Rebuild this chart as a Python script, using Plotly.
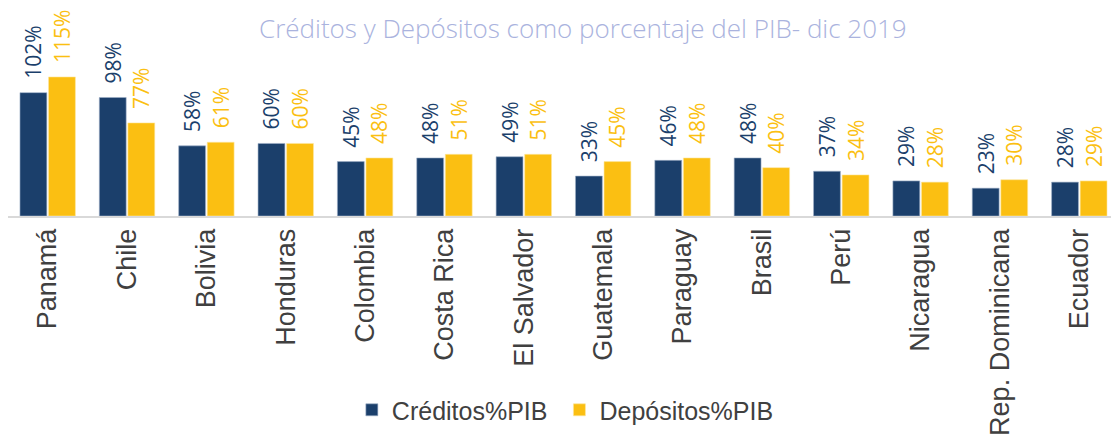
import plotly.graph_objects as go

_NAVY = "#1b3f6b"
_GOLD = "#fbbf12"
_LABEL = "#404040"

paises = ["Panamá", "Chile", "Bolivia", "Honduras", "Colombia", "Costa Rica",
          "El Salvador", "Guatemala", "Paraguay", "Brasil", "Perú", "Nicaragua",
          "Rep. Dominicana", "Ecuador"]
creditos = [102, 98, 58, 60, 45, 48, 49, 33, 46, 48, 37, 29, 23, 28]
depositos = [115, 77, 61, 60, 48, 51, 51, 45, 48, 40, 34, 28, 30, 29]

# non-breaking spaces push the rotated labels a bit off the bar tops
_PAD = "\u00a0\u00a0"

fig = go.Figure()

fig.add_trace(
    go.Bar(
        x=paises,
        y=creditos,
        name="Créditos%PIB\u00a0",
        marker=dict(color=_NAVY, line=dict(color="#9fb0c8", width=0.6)),
        text=[f"{_PAD}{v}%" for v in creditos],
        textposition="outside",
        textangle=-90,
        constraintext="none",
        textfont=dict(color=_NAVY, size=21, family="Open Sans"),
        cliponaxis=False,
    )
)

fig.add_trace(
    go.Bar(
        x=paises,
        y=depositos,
        name="Depósitos%PIB",
        marker=dict(color=_GOLD, line=dict(color="#fde7a0", width=0.6)),
        text=[f"{_PAD}{v}%" for v in depositos],
        textposition="outside",
        textangle=-90,
        constraintext="none",
        textfont=dict(color=_GOLD, size=21, family="Open Sans"),
        cliponaxis=False,
    )
)

# page has an 8px body margin, so the figure is 8px smaller each way
fig.update_layout(
    width=1111,
    height=430,
    margin=dict(l=0, r=0, t=0, b=222),
    paper_bgcolor="white",
    plot_bgcolor="white",
    barmode="group",
    bargap=0.28,
    bargroupgap=0.06,
    font=dict(family="Liberation Sans, Arial, sans-serif", color=_LABEL),
    showlegend=True,
    legend=dict(
        orientation="h",
        x=0.3095,
        xanchor="left",
        y=-0.933,
        yanchor="middle",
        font=dict(size=25, color=_LABEL),
        itemwidth=30,
        bgcolor="rgba(0,0,0,0)",
    ),
    xaxis=dict(
        tickangle=-90,
        tickfont=dict(size=27, color=_LABEL),
        showline=True,
        linecolor="#d9d9d9",
        linewidth=2,
        ticks="",
        automargin=False,
    ),
    yaxis=dict(
        range=[0, 172],
        visible=False,
        showgrid=False,
        zeroline=False,
    ),
    annotations=[
        dict(
            text="Créditos y Depósitos como porcentaje del PIB- dic 2019",
            xref="paper",
            yref="paper",
            x=0.5176,
            y=0.904,
            xanchor="center",
            yanchor="middle",
            showarrow=False,
            font=dict(size=26, color="#aab3de", family="Open Sans", weight=300),
        ),
        dict(
            text="Fuente: BID",
            xref="paper",
            yref="paper",
            x=0.015,
            y=-1.06,
            xanchor="left",
            yanchor="top",
            showarrow=False,
            font=dict(size=16, color="#8c8c8c"),
        ),
    ],
)

fig.write_html("out.html")
